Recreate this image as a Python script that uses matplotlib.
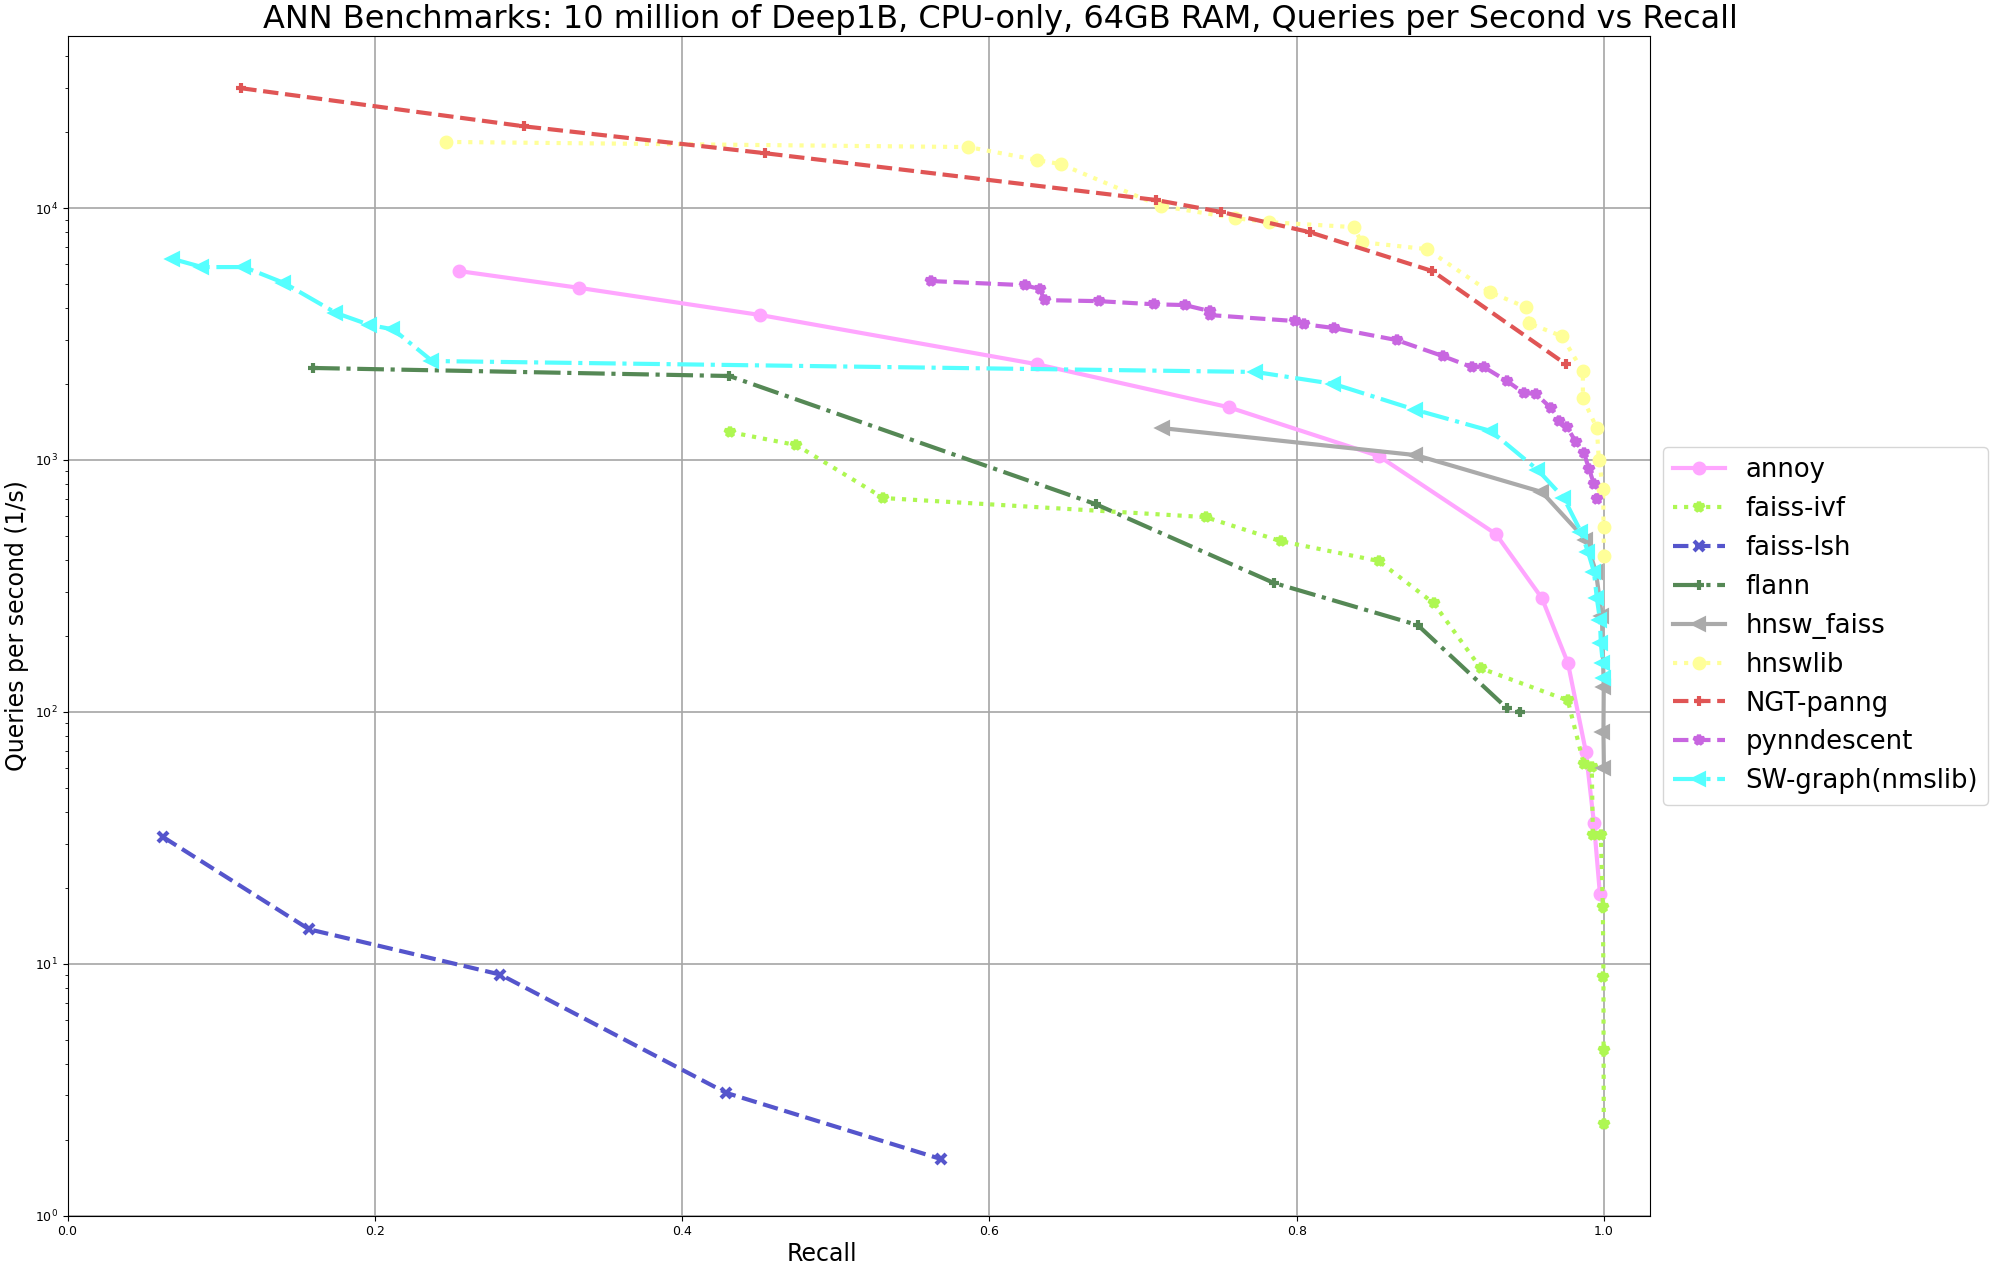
import matplotlib
matplotlib.use("Agg")
import matplotlib.pyplot as plt

# recall / queries-per-second
annoy_recall = [0.2549, 0.3331, 0.4510, 0.6307, 0.7558, 0.8535, 0.9297, 0.9596, 0.9766, 0.9883, 0.9935, 0.9974]
annoy_qps = [5620, 4820, 3760, 2400, 1619, 1036, 508, 283, 156, 69.2, 36.2, 18.9]

ivf_recall = [0.4314, 0.4744, 0.5310, 0.7407, 0.7896, 0.8534, 0.8892, 0.9198, 0.9765, 0.9869, 0.9921,
              0.9928, 0.9980, 0.9993, 0.9997, 0.9998, 0.9999]
ivf_qps = [1289, 1145, 706, 593, 476, 397, 270, 149, 111, 62.1, 60.4, 32.4, 32.4, 16.8, 8.85, 4.54, 2.31]

lsh_recall = [0.0623, 0.1572, 0.2816, 0.4288, 0.5682]
lsh_qps = [31.8, 13.7, 9.06, 3.07, 1.68]

flann_recall = [0.1598, 0.4307, 0.6691, 0.7851, 0.8788, 0.9368, 0.9453]
flann_qps = [2318, 2154, 668, 325, 221, 103.5, 99.8]

hnswf_recall = [0.7128, 0.8776, 0.9596, 0.9883, 0.9948, 0.9987, 0.9999, 0.9997, 1.0]
hnswf_qps = [1337, 1045, 746, 481, 359, 240, 126, 83, 60]

hnswlib_recall = [0.2464, 0.5864, 0.6313, 0.6463, 0.7114, 0.7596, 0.7818, 0.8371, 0.8423, 0.8847, 0.9257,
                  0.9491, 0.9511, 0.9726, 0.9863, 0.9863, 0.9954, 0.9967, 0.9995, 0.9998, 1.0]
hnswlib_qps = [18300, 17460, 15500, 14950, 10190, 9130, 8790, 8400, 7320, 6870, 4640,
               4040, 3490, 3100, 2250, 1758, 1337, 998, 766, 541, 415]

ngt_recall = [0.1130, 0.2972, 0.4542, 0.7082, 0.7505, 0.8085, 0.8884, 0.9752]
ngt_qps = [29900, 21100, 16500, 10770, 9660, 8020, 5620, 2400]

pynn_recall = [0.5623, 0.6229, 0.6327, 0.6359, 0.6711, 0.7069, 0.7271, 0.7434, 0.7434, 0.7988, 0.8046,
               0.8242, 0.8652, 0.8951, 0.9140, 0.9219, 0.9369, 0.9479, 0.9558, 0.9655, 0.9707, 0.9759,
               0.9818, 0.9870, 0.9903, 0.9935, 0.9954]
pynn_qps = [5130, 4940, 4770, 4310, 4270, 4150, 4120, 3900, 3760, 3560, 3460,
            3340, 2990, 2585, 2337, 2337, 2057, 1844, 1827, 1608, 1428, 1352,
            1178, 1066, 921, 803, 700]

sw_recall = [0.0688, 0.0875, 0.1149, 0.1409, 0.1748, 0.1969, 0.2119, 0.2373, 0.7733, 0.8241, 0.8775,
             0.9264, 0.9570, 0.9739, 0.9850, 0.9896, 0.9935, 0.9954, 0.9974, 0.9980, 0.9993, 0.9999]
sw_qps = [6270, 5830, 5830, 5040, 3830, 3430, 3300, 2470, 2235, 2003, 1580,
          1303, 912, 706, 519, 432, 360, 283, 232, 188, 156, 136]

algos = ["annoy", "faiss-ivf", "faiss-lsh", "flann", "hnsw_faiss", "hnswlib",
         "NGT-panng", "pynndescent", "SW-graph(nmslib)"]
recalls = [annoy_recall, ivf_recall, lsh_recall, flann_recall, hnswf_recall,
           hnswlib_recall, ngt_recall, pynn_recall, sw_recall]
qps = [annoy_qps, ivf_qps, lsh_qps, flann_qps, hnswf_qps,
       hnswlib_qps, ngt_qps, pynn_qps, sw_qps]

colors = ["#ffa6ff", "#aef752", "#5555cc", "#558855", "#aaaaaa",
          "#ffff99", "#e05555", "#c866e0", "#55ffff"]
linestyles = ["-", ":", "--", "-.", "-", ":", "--", "--", "-."]
markers = ["o", "*", "x", "+", "<", "o", "+", "*", "<"]

fig = plt.figure(figsize=(20, 12.72), dpi=100)
ax = fig.add_axes([0.0338, 0.0443, 0.7912, 0.9276])

for name, x, y, c, ls, m in zip(algos, recalls, qps, colors, linestyles, markers):
    ax.plot(x, y, label=name, color=c, linestyle=ls, marker=m, ms=7, mew=3, lw=3)

ax.set_yscale("log")
ax.set_xlim(0, 1.03)
ax.set_ylim(1, 10 ** 4.684)
ax.grid(True, which="major", color="0.65", linestyle="-", lw=1.2)
ax.tick_params(labelsize=9)
ax.set_xlabel("Recall", fontsize=17)
ax.xaxis.set_label_coords(0.477, -0.022)
ax.set_ylabel("Queries per second (1/s)", fontsize=17)
fig.text(0.5, 0.978, "ANN Benchmarks: 10 million of Deep1B, CPU-only, 64GB RAM, Queries per Second vs Recall",
         ha="center", va="baseline", fontsize=23)
ax.legend(loc="center left", bbox_to_anchor=(1, 0.5), fontsize=18.6)

plt.savefig("out.png", dpi=100)
